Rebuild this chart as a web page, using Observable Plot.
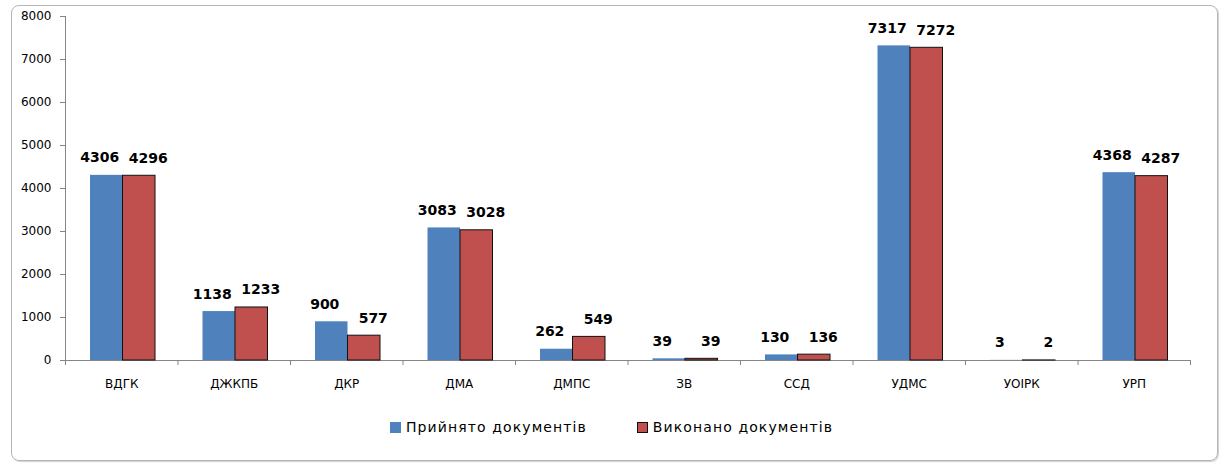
<!DOCTYPE html>
<html>
<head>
<meta charset="utf-8">
<script src="https://cdn.jsdelivr.net/npm/d3@7"></script>
<script src="https://cdn.jsdelivr.net/npm/@observablehq/plot@0.6"></script>
<style>
  body { margin: 0; background: #fff; }
  #wrap { position: relative; width: 1223px; height: 466px; overflow: hidden; font-family: "DejaVu Sans", sans-serif; }
  #frame { position: absolute; left: 11px; top: 5px; width: 1205px; height: 454px; border: 1px solid #b5b5b5; border-radius: 8px; box-shadow: 1px 1px 1px #d0d0d0; }
  #chart { position: absolute; left: 0; top: 0; }
  #legend { position: absolute; left: 0; top: 419px; width: 1223px; display: flex; justify-content: center; gap: 50px; font-size: 14px; letter-spacing: 1.1px; color: #000; }
  .item { display: flex; align-items: center; gap: 5px; }
  .sw { width: 11px; height: 11px; box-sizing: border-box; }
</style>
</head>
<body>
<div id="wrap">
  <div id="frame"></div>
  <div id="chart"></div>
  <div id="legend"></div>
</div>
<script>
const categories = ["ВДГК", "ДЖКПБ", "ДКР", "ДМА", "ДМПС", "ЗВ", "ССД", "УДМС", "УОІРК", "УРП"];
const accepted = [4306, 1138, 900, 3083, 262, 39, 130, 7317, 3, 4368];
const executed = [4296, 1233, 577, 3028, 549, 39, 136, 7272, 2, 4287];
const seriesNames = ["Прийнято документів", "Виконано документів"];
const yTicks = [0, 1000, 2000, 3000, 4000, 5000, 6000, 7000, 8000];

const blue = "#4F81BD";
const red = "#C0504D";

const rowsA = categories.map((c, i) => ({cat: c, value: accepted[i]}));
const rowsB = categories.map((c, i) => ({cat: c, value: executed[i]}));

const W = 1223, H = 400;
const mL = 65, mR = 33;
const band = (W - mL - mR) / categories.length;

const chart = Plot.plot({
  width: W,
  height: H,
  marginLeft: mL,
  marginRight: mR,
  marginTop: 16,
  marginBottom: 40,
  style: { fontFamily: "DejaVu Sans, sans-serif", background: "transparent" },
  x: { domain: categories, padding: 0, round: false, axis: null },
  y: { domain: [0, 8000], axis: null },
  marks: [
    // y axis line
    Plot.ruleX([categories[0]], { y1: 0, y2: 8000, dx: -band / 2, stroke: "#868686" }),
    Plot.axisY({ ticks: yTicks, tickSize: 5, tickPadding: 9, stroke: "#868686", color: "#000", fontSize: 12, label: null, tickFormat: d => String(d) }),
    // x axis baseline
    Plot.ruleY([0], { stroke: "#868686" }),
    // boundary ticks
    Plot.axisX({ ticks: categories, tickSize: 5, dx: -band / 2, label: null, tickFormat: () => "", stroke: "#868686" }),
    Plot.axisX({ ticks: [categories[categories.length - 1]], tickSize: 5, dx: band / 2, label: null, tickFormat: () => "", stroke: "#868686" }),
    // category labels
    Plot.axisX({ ticks: categories, tickSize: 0, tickPadding: 19, fontSize: 12, color: "#000", label: null }),
    // bars
    Plot.barY(rowsA, { x: "cat", y: "value", fill: blue, insetLeft: 25, insetRight: 55 }),
    Plot.barY(rowsB, { x: "cat", y: "value", fill: red, stroke: "#111", strokeWidth: 1, insetLeft: 57.5, insetRight: 22.5 }),
    // value labels
    Plot.text(rowsA, { x: "cat", y: "value", text: d => String(d.value), dx: -15 - 7, dy: -13, lineAnchor: "bottom", fontSize: 14, fontWeight: "bold", fill: "#000" }),
    Plot.text(rowsB, { x: "cat", y: "value", text: d => String(d.value), dx: 17.5 + 9, dy: -13, lineAnchor: "bottom", fontSize: 14, fontWeight: "bold", fill: "#000" })
  ]
});
document.getElementById("chart").appendChild(chart);

const legend = document.getElementById("legend");
[[seriesNames[0], blue, "none"], [seriesNames[1], red, "1px solid #111"]].forEach(([name, color, border]) => {
  const it = document.createElement("div");
  it.className = "item";
  const sw = document.createElement("span");
  sw.className = "sw";
  sw.style.background = color;
  sw.style.border = border;
  const t = document.createElement("span");
  t.textContent = name;
  it.appendChild(sw);
  it.appendChild(t);
  legend.appendChild(it);
});
</script>
</body>
</html>
